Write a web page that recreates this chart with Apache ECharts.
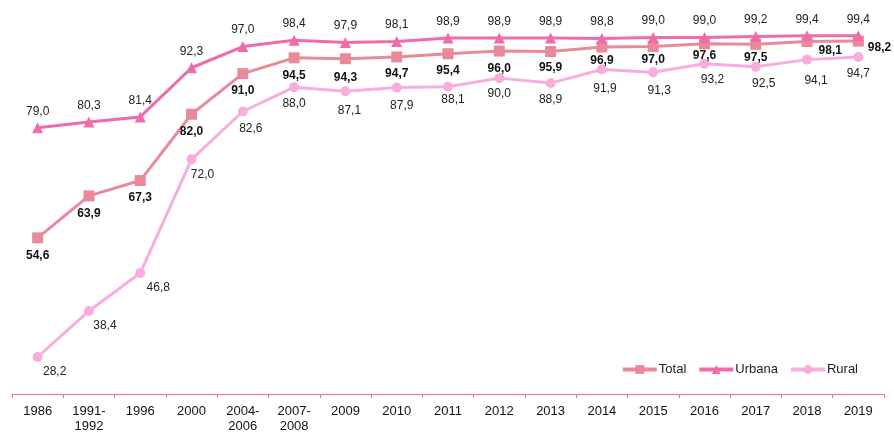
<!DOCTYPE html>
<html>
<head>
<meta charset="utf-8">
<script src="https://cdn.jsdelivr.net/npm/echarts@6/dist/echarts.min.js"></script>
<style>
  html, body { margin: 0; padding: 0; background: #fff; }
  #chart { width: 894px; height: 434px; }
</style>
</head>
<body>
<div id="chart"></div>
<script>
var categories = ['1986', '1991-\n1992', '1996', '2000', '2004-\n2006', '2007-\n2008', '2009', '2010', '2011', '2012', '2013', '2014', '2015', '2016', '2017', '2018', '2019'];
var total = [54.6, 63.9, 67.3, 82.0, 91.0, 94.5, 94.3, 94.7, 95.4, 96.0, 95.9, 96.9, 97.0, 97.6, 97.5, 98.1, 98.2];
var urbana = [79.0, 80.3, 81.4, 92.3, 97.0, 98.4, 97.9, 98.1, 98.9, 98.9, 98.9, 98.8, 99.0, 99.0, 99.2, 99.4, 99.4];
var rural = [28.2, 38.4, 46.8, 72.0, 82.6, 88.0, 87.1, 87.9, 88.1, 90.0, 88.9, 91.9, 91.3, 93.2, 92.5, 94.1, 94.7];

// label nudges, [dx, dy]
var totalOffsets = [[0, 0], [0, 0], [0, 0], [0, 0], [0, 0], [0, 0], [0, 1], [0, -1], [0, -1], [0, 0], [0, -1], [0, -4], [0, -4], [0, -6], [0, -4], [0, 0], [0, 0]];
var ruralOffsets = [[17, -2], [16, -2], [18, -2], [11, -2], [8, 0], [0, 0], [4, 2], [5, 1], [5, -4], [0, -1], [0, 0], [3, 2], [6, 1], [8, -1], [8, 0], [9, 4], [0, 0]];

function fmt(v) { return v.toFixed(1).replace('.', ','); }

var totalData = total.map(function (v, i) {
  var d = { value: v, label: { offset: totalOffsets[i] } };
  if (i === 15) d.label = { position: 'right', distance: 6, offset: [0, 9] };
  if (i === 16) d.label = { position: 'right', distance: 4, offset: [0, 7] };
  return d;
});
var ruralData = rural.map(function (v, i) {
  return { value: v, label: { offset: ruralOffsets[i] } };
});

var chart = echarts.init(document.getElementById('chart'));

var option = {
  animation: false,
  textStyle: { fontFamily: 'Liberation Sans, Arial, sans-serif' },
  grid: { left: 12, right: 10, top: 33, bottom: 38 },
  legend: {
    right: 31,
    top: 358,
    itemWidth: 34,
    itemHeight: 11,
    itemGap: 11,
    lineStyle: { width: 4 },
    textStyle: { fontSize: 13, color: '#222', padding: [0, 0, 0, -3], fontFamily: 'Liberation Sans, Arial, sans-serif' },
    data: ['Total', 'Urbana', 'Rural']
  },
  xAxis: {
    type: 'category',
    data: categories,
    axisLine: { lineStyle: { color: '#EC6FA8', width: 1 } },
    axisTick: { show: true, length: 4, lineStyle: { color: '#EC6FA8' } },
    axisLabel: { color: '#111', fontSize: 13, margin: 10, lineHeight: 15, interval: 0 }
  },
  yAxis: {
    type: 'value',
    min: 20,
    max: 100,
    show: false,
    splitLine: { show: false }
  },
  series: [
    {
      name: 'Total',
      type: 'line',
      data: totalData,
      color: '#E98A9B',
      symbol: 'rect',
      symbolSize: 11,
      lineStyle: { width: 3 },
      z: 3,
      label: {
        show: true,
        position: 'bottom',
        distance: 6,
        fontWeight: 'bold',
        fontSize: 12,
        color: '#111',
        formatter: function (p) { return fmt(p.value); }
      }
    },
    {
      name: 'Urbana',
      type: 'line',
      data: urbana,
      color: '#EF6BAA',
      symbol: 'triangle',
      symbolSize: 11,
      lineStyle: { width: 3 },
      z: 4,
      label: {
        show: true,
        position: 'top',
        distance: 5,
        fontSize: 12,
        color: '#222',
        formatter: function (p) { return fmt(p.value); }
      }
    },
    {
      name: 'Rural',
      type: 'line',
      data: ruralData,
      color: '#F8AEDD',
      symbol: 'circle',
      symbolSize: 10,
      lineStyle: { width: 3 },
      z: 2,
      label: {
        show: true,
        position: 'bottom',
        distance: 6,
        fontSize: 12,
        color: '#222',
        formatter: function (p) { return fmt(p.value); }
      }
    }
  ]
};

chart.setOption(option);
</script>
</body>
</html>
